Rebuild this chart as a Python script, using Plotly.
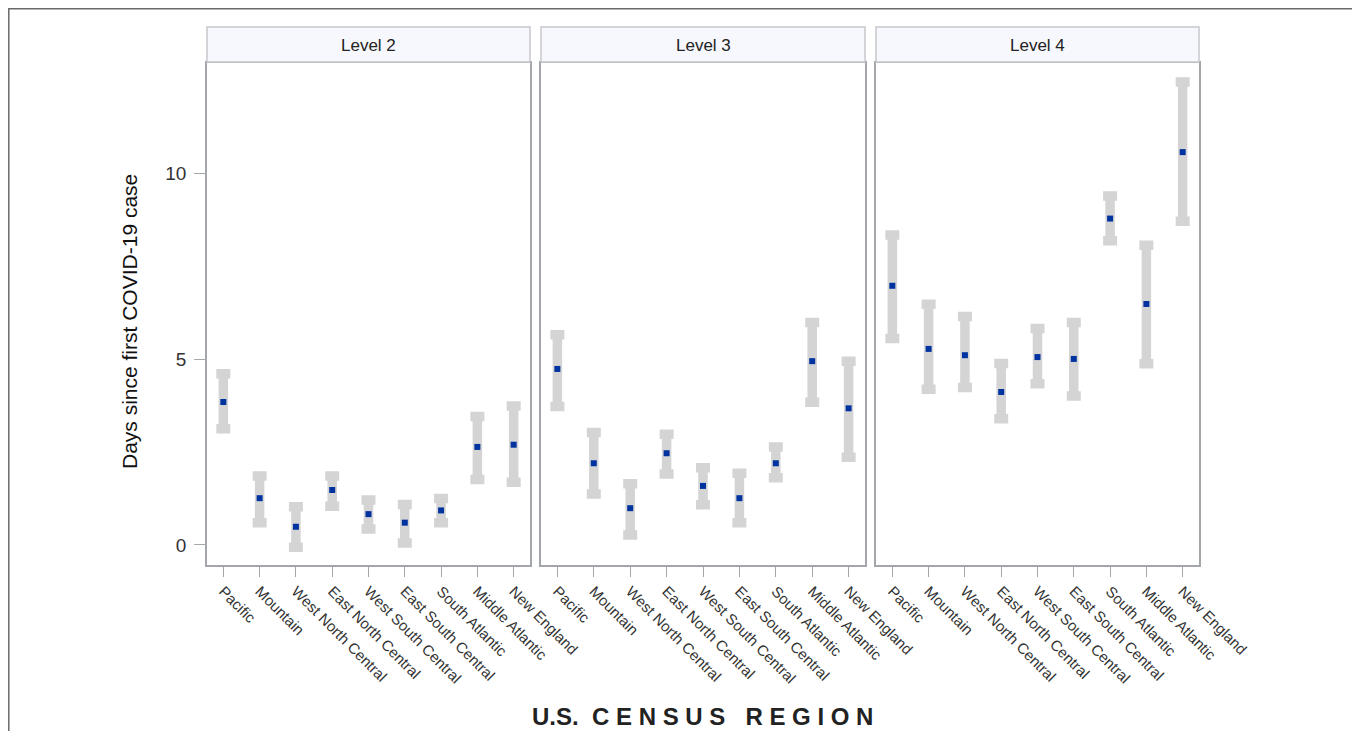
import plotly.graph_objects as go

regions = ["Pacific", "Mountain", "West North Central", "East North Central",
           "West South Central", "East South Central", "South Atlantic",
           "Middle Atlantic", "New England"]
levels = ["Level 2", "Level 3", "Level 4"]

l2_mean = [3.85, 1.26, 0.49, 1.48, 0.83, 0.60, 0.93, 2.64, 2.70]
l2_low = [3.13, 0.60, -0.06, 1.04, 0.43, 0.05, 0.60, 1.76, 1.69]
l2_high = [4.61, 1.86, 1.03, 1.86, 1.21, 1.09, 1.25, 3.46, 3.74]

l3_mean = [4.74, 2.20, 0.99, 2.47, 1.59, 1.26, 2.20, 4.95, 3.68]
l3_low = [3.73, 1.37, 0.27, 1.91, 1.08, 0.60, 1.81, 3.84, 2.36]
l3_high = [5.66, 3.03, 1.65, 2.98, 2.08, 1.93, 2.64, 5.99, 4.95]

l4_mean = [6.98, 5.28, 5.11, 4.12, 5.06, 5.01, 8.79, 6.49, 10.58]
l4_low = [5.56, 4.19, 4.24, 3.40, 4.34, 4.01, 8.19, 4.88, 8.72]
l4_high = [8.35, 6.48, 6.15, 4.89, 5.83, 5.99, 9.40, 8.07, 12.47]

y_ticks = [0, 5, 10]

series = [(l2_mean, l2_low, l2_high), (l3_mean, l3_low, l3_high), (l4_mean, l4_low, l4_high)]

# page body has an 8px margin, so the figure is laid out in its own pixel space
W, H = 1352, 723
ML, MT = 199, 55
PR, PB = 1191, 557
MR, MB = W - PR, H - PB
pw = PR - ML
ph = PB - MT
panels_px = [(199, 522), (533, 857), (868, 1191)]

FONT = "Liberation Sans, Arial, sans-serif"
fig = go.Figure()

for i, (m, lo, hi) in enumerate(series):
    xa = "x" if i == 0 else f"x{i+1}"
    ya = "y" if i == 0 else f"y{i+1}"
    fig.add_trace(go.Scatter(
        x=regions, y=m, mode="markers", xaxis=xa, yaxis=ya,
        marker=dict(symbol="square", size=6, color="#0033a0"),
        error_y=dict(type="data", symmetric=False,
                     array=[h - v for h, v in zip(hi, m)],
                     arrayminus=[v - l for v, l in zip(m, lo)],
                     color="#d4d4d4", thickness=9.5, width=7),
        showlegend=False, hoverinfo="skip"))

for i, (x0, x1) in enumerate(panels_px):
    suffix = "" if i == 0 else str(i + 1)
    dom = [(x0 - ML) / pw, (x1 - ML) / pw]
    fig.layout["xaxis" + suffix] = dict(
        domain=dom, anchor="y" + suffix, type="category",
        categoryorder="array", categoryarray=regions,
        range=[-0.45, 8.45], showline=True, mirror=True,
        linecolor="#a3a6aa", linewidth=1.5, showgrid=False, zeroline=False,
        ticks="outside", ticklen=10, tickcolor="#a3a6aa", tickwidth=1.2,
        tickangle=45, tickfont=dict(family=FONT, size=15, color="#333333"))
    ydict = dict(
        domain=[0, 1], anchor="x" + suffix, range=[-0.54, 12.98],
        showline=True, mirror=True, linecolor="#a3a6aa", linewidth=1.5,
        showgrid=False, zeroline=False)
    if i == 0:
        ydict.update(ticks="outside", ticklen=11, tickcolor="#a3a6aa", tickwidth=1.2,
                     tickvals=y_ticks, ticklabelstandoff=4,
                     tickfont=dict(family=FONT, size=19, color="#333333"))
    else:
        ydict.update(matches="y", showticklabels=False, ticks="")
    fig.layout["yaxis" + suffix] = ydict

    # strip header
    fig.add_shape(type="rect", xref=f"x{suffix} domain", yref=f"y{suffix} domain",
                  x0=0, x1=1, y0=1.002, y1=1 + 36 / ph,
                  fillcolor="#f7f8fd", line=dict(color="#c6c8cc", width=1.5))
    fig.add_annotation(text=levels[i], xref=f"x{suffix} domain", yref=f"y{suffix} domain",
                       x=0.5, y=1 + 18 / ph, showarrow=False, xanchor="center", yanchor="middle",
                       font=dict(family=FONT, size=17, color="#222222"))

# outer frame
fig.add_shape(type="rect", xref="paper", yref="paper",
              x0=(0.8 - ML) / pw, x1=(1347 - ML) / pw,
              y0=(PB - 760) / ph, y1=1 + (MT - 0.8) / ph,
              line=dict(color="#6a6a6a", width=1.5), fillcolor="rgba(0,0,0,0)")

fig.add_annotation(text="Days since first COVID-19 case", xref="paper", yref="paper",
                   x=(121 - ML) / pw, y=(PB - 314) / ph, textangle=-90, showarrow=False,
                   xanchor="center", yanchor="middle",
                   font=dict(family=FONT, size=21, color="#111111"))

fig.add_annotation(text="<b>U.S.  C E N S U S   R E G I O N</b>", xref="paper", yref="paper",
                   x=(694 - ML) / pw, y=(PB - 708) / ph, showarrow=False,
                   xanchor="center", yanchor="middle",
                   font=dict(family=FONT, size=24, color="#222222"))

fig.update_layout(width=W, height=H, margin=dict(l=ML, r=MR, t=MT, b=MB),
                  paper_bgcolor="white", plot_bgcolor="white")

fig.write_html("out.html")
